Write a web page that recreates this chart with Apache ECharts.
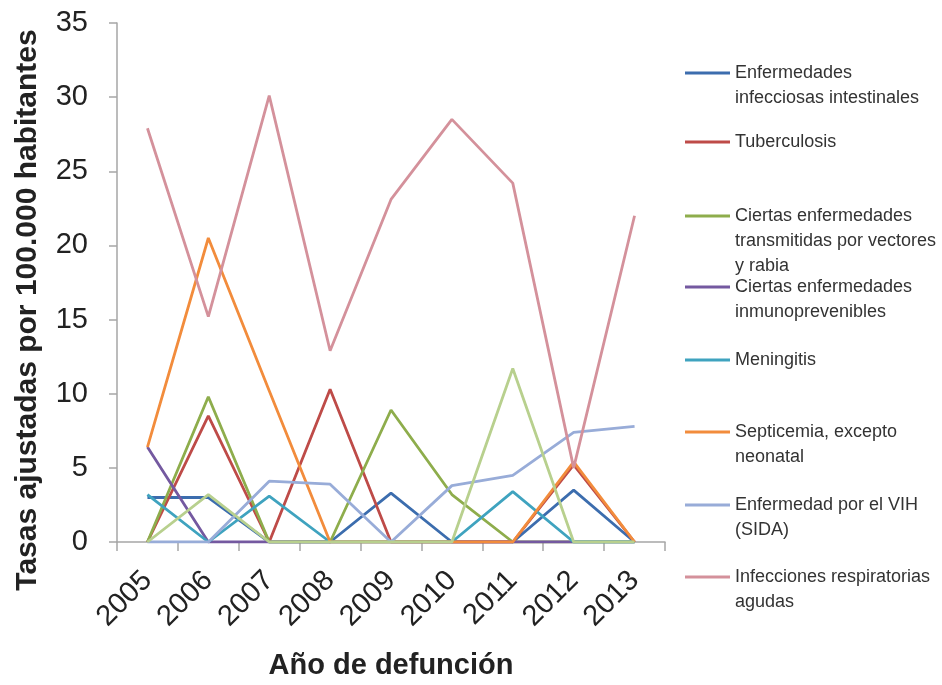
<!DOCTYPE html>
<html><head><meta charset="utf-8">
<script src="https://cdn.jsdelivr.net/npm/echarts@6/dist/echarts.min.js"></script>
<style>html,body{margin:0;padding:0;background:#fff}#c{width:942px;height:685px}</style>
</head><body><div id="c"></div>
<script>
// ---- data ----
const years = ['2005','2006','2007','2008','2009','2010','2011','2012','2013'];
const yMin = 0, yMax = 35, yStep = 5;
const seriesNames = [
  'Enfermedades infecciosas intestinales',
  'Tuberculosis',
  'Ciertas enfermedades transmitidas por vectores y rabia',
  'Ciertas enfermedades inmunoprevenibles',
  'Meningitis',
  'Septicemia, excepto neonatal',
  'Enfermedad por el VIH (SIDA)',
  'Infecciones respiratorias agudas',
  'Otras'
];
const legendLabels = [
  'Enfermedades\ninfecciosas intestinales',
  'Tuberculosis',
  'Ciertas enfermedades\ntransmitidas por vectores\ny rabia',
  'Ciertas enfermedades\ninmunoprevenibles',
  'Meningitis',
  'Septicemia, excepto\nneonatal',
  'Enfermedad por el VIH\n(SIDA)',
  'Infecciones respiratorias\nagudas'
];
const xTitle = 'Año de defunción';
const yTitle = 'Tasas ajustadas por 100.000 habitantes';
const intestinales      = [3.0, 3.0, 0, 0, 3.3, 0, 0, 3.5, 0];
const tuberculosis      = [0, 8.5, 0, 10.3, 0, 0, 0, 5.2, 0];
const vectores          = [0, 9.8, 0, 0, 8.9, 3.2, 0, 0, 0];
const inmunoprevenibles = [6.4, 0, 0, 0, 0, 0, 0, 0, 0];
const meningitis        = [3.2, 0, 3.1, 0, 0, 0, 3.4, 0, 0];
const septicemia        = [6.4, 20.5, 10.2, 0, 0, 0, 0, 5.4, 0];
const vih               = [0, 0, 4.1, 3.9, 0, 3.8, 4.5, 7.4, 7.8];
const respiratorias     = [27.9, 15.2, 30.1, 12.9, 23.1, 28.5, 24.2, 5.0, 22.0];
const otras             = [0, 3.2, 0, 0, 0, 0, 11.7, 0, 0];
const allValues = [intestinales, tuberculosis, vectores, inmunoprevenibles, meningitis, septicemia, vih, respiratorias, otras];

// ---- styles / layout ----
const colors = ['#3C6DAE','#BE4B48','#8EAD4C','#7459A0','#3FA3BF','#F28C3C','#98ACD8','#D4919B','#B8D08E'];
const legendIconY = [73, 142, 216, 287, 360, 432, 505, 577];
const LH = 25;
const font = 'Liberation Sans, Arial, sans-serif';

function paddedLabel(i) {
  const lines = legendLabels[i].split('\n');
  const extra = lines.length - 1;
  return { text: Array(extra).fill(' ').concat(lines).join('\n'), n: lines.length + extra };
}

const legends = legendLabels.map((_, i) => {
  const p = paddedLabel(i);
  return {
    data: [seriesNames[i]],
    orient: 'vertical',
    left: 685,
    top: legendIconY[i] - p.n * LH / 2,
    padding: 0,
    itemWidth: 45,
    itemHeight: 3,
    icon: 'rect',
    selectedMode: false,
    formatter: () => p.text,
    textStyle: { fontSize: 18, lineHeight: LH, color: '#333', fontFamily: font }
  };
});

const chart = echarts.init(document.getElementById('c'), null, { renderer: 'canvas' });
chart.setOption({
  animation: false,
  backgroundColor: '#fff',
  grid: { left: 117, right: 277, top: 23, bottom: 141, containLabel: false },
  legend: legends,
  graphic: [{
    type: 'text',
    x: 28, y: 310,
    rotation: Math.PI / 2,
    style: { text: yTitle, fontSize: 30, fontWeight: 'bold', fill: '#222', fontFamily: font, align: 'center', verticalAlign: 'middle' }
  }],
  xAxis: {
    type: 'category',
    data: years,
    boundaryGap: true,
    axisLine: { lineStyle: { color: '#A6A6A6', width: 1.5 } },
    axisTick: { show: true, length: 9, lineStyle: { color: '#A6A6A6', width: 1.5 } },
    axisLabel: { rotate: 45, fontSize: 29, color: '#222', fontFamily: font, margin: 34 },
    name: xTitle,
    nameLocation: 'middle',
    nameGap: 109,
    nameTextStyle: { fontSize: 29, fontWeight: 'bold', color: '#222', fontFamily: font }
  },
  yAxis: {
    type: 'value',
    min: yMin, max: yMax, interval: yStep,
    splitLine: { show: false },
    axisLine: { show: true, lineStyle: { color: '#A6A6A6', width: 1.5 } },
    axisTick: { show: true, length: 8, lineStyle: { color: '#A6A6A6', width: 1.5 } },
    axisLabel: { fontSize: 29, color: '#222', fontFamily: font, margin: 29 }
  },
  series: allValues.map((vals, i) => ({
    name: seriesNames[i],
    type: 'line',
    data: vals,
    color: colors[i],
    symbol: 'none',
    lineStyle: { width: 2.8, color: colors[i] },
    z: 2 + i
  }))
});
</script>
</body></html>
